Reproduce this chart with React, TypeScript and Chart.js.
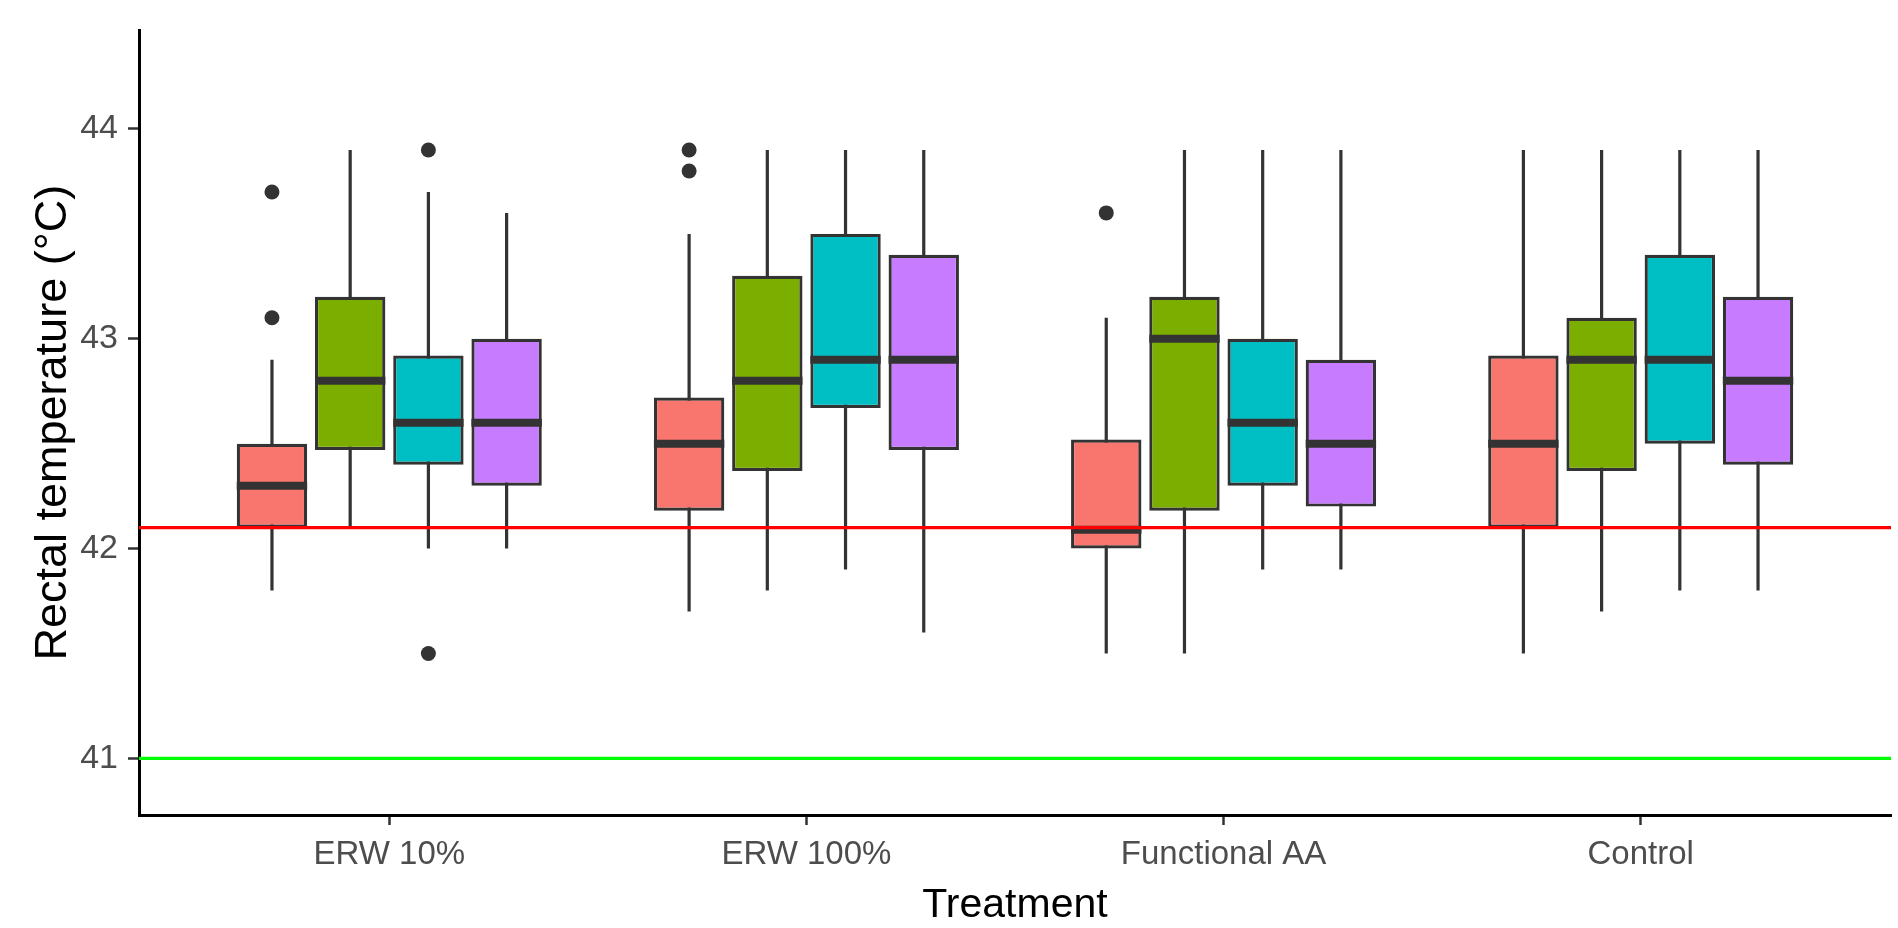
import React, { useEffect, useRef } from 'react';
import { Chart, registerables } from 'chart.js';

Chart.register(...registerables);

// ---------- data ----------
const CATEGORIES = ['ERW 10%', 'ERW 100%', 'Functional AA', 'Control'];
const CATEGORY_POSITIONS = [1, 2, 3, 4];
const SERIES = ['Group 1', 'Group 2', 'Group 3', 'Group 4'];
const COLORS = ['#F8766D', '#7CAE00', '#00BFC4', '#C77CFF'];

// per series (rows) x per category (columns)
const Q1 = [
  [42.1, 42.18, 42.0, 42.1],
  [42.47, 42.37, 42.18, 42.37],
  [42.4, 42.67, 42.3, 42.5],
  [42.3, 42.47, 42.2, 42.4],
];
const Q3 = [
  [42.5, 42.72, 42.52, 42.92],
  [43.2, 43.3, 43.2, 43.1],
  [42.92, 43.5, 43.0, 43.4],
  [43.0, 43.4, 42.9, 43.2],
];
const MEDIAN = [
  [42.3, 42.5, 42.09, 42.5],
  [42.8, 42.8, 43.0, 42.9],
  [42.6, 42.9, 42.6, 42.9],
  [42.6, 42.9, 42.5, 42.8],
];
const WHISKER_LOW = [
  [41.8, 41.7, 41.5, 41.5],
  [42.1, 41.8, 41.5, 41.7],
  [42.0, 41.9, 41.9, 41.8],
  [42.0, 41.6, 41.9, 41.8],
];
const WHISKER_HIGH = [
  [42.9, 43.5, 43.1, 43.9],
  [43.9, 43.9, 43.9, 43.9],
  [43.7, 43.9, 43.9, 43.9],
  [43.6, 43.9, 43.9, 43.9],
];
const OUTLIERS = [
  [[43.7, 43.1], [43.9, 43.8], [43.6], []],
  [[], [], [], []],
  [[43.9, 41.5], [], [], []],
  [[], [], [], []],
];

const Y_TICKS = [41, 42, 43, 44];
const THRESHOLD_RED = 42.1;
const THRESHOLD_GREEN = 41;
const X_MIN = 0.4;
const X_MAX = 4.6;
const Y_MIN = 40.73;
const Y_MAX = 44.47;

// ---------- styles ----------
const OUTLINE = '#333333';
const FONT = 'Liberation Sans, Arial, sans-serif';
const LINE_W = 3.2;

const boxExtras = {
  id: 'boxExtras',
  beforeDatasetsDraw(chart: any) {
    const ctx = chart.ctx;
    const y = chart.scales.y;
    ctx.save();
    ctx.strokeStyle = OUTLINE;
    ctx.lineWidth = LINE_W;
    SERIES.forEach((_, si) => {
      const meta = chart.getDatasetMeta(si);
      meta.data.forEach((el: any, ci: number) => {
        ctx.beginPath();
        ctx.moveTo(el.x, y.getPixelForValue(WHISKER_HIGH[si][ci]));
        ctx.lineTo(el.x, y.getPixelForValue(WHISKER_LOW[si][ci]));
        ctx.stroke();
      });
    });
    ctx.restore();
  },
  afterDatasetsDraw(chart: any) {
    const ctx = chart.ctx;
    const y = chart.scales.y;
    const area = chart.chartArea;
    ctx.save();
    SERIES.forEach((_, si) => {
      const meta = chart.getDatasetMeta(si);
      meta.data.forEach((el: any, ci: number) => {
        const half = el.width / 2;
        const ym = y.getPixelForValue(MEDIAN[si][ci]);
        ctx.strokeStyle = OUTLINE;
        ctx.lineWidth = 8;
        ctx.beginPath();
        ctx.moveTo(el.x - half, ym);
        ctx.lineTo(el.x + half, ym);
        ctx.stroke();
        ctx.fillStyle = OUTLINE;
        OUTLIERS[si][ci].forEach((v) => {
          ctx.beginPath();
          ctx.arc(el.x, y.getPixelForValue(v), 7.5, 0, Math.PI * 2);
          ctx.fill();
        });
      });
    });
    // reference lines
    const lines: [number, string][] = [
      [THRESHOLD_GREEN, '#00FF00'],
      [THRESHOLD_RED, '#FF0000'],
    ];
    lines.forEach(([v, c]) => {
      const yp = y.getPixelForValue(v);
      ctx.strokeStyle = c;
      ctx.lineWidth = 3.3;
      ctx.beginPath();
      ctx.moveTo(area.left, yp);
      ctx.lineTo(area.right, yp);
      ctx.stroke();
    });
    ctx.restore();
  },
};

export default function App() {
  const ref = useRef<HTMLCanvasElement | null>(null);

  useEffect(() => {
    document.body.style.margin = '0';
    const canvas = ref.current;
    if (!canvas) return;

    const datasets = SERIES.map((name, si) => ({
      label: name,
      data: CATEGORY_POSITIONS.map((x, ci) => ({ x, y: [Q1[si][ci], Q3[si][ci]] })),
      backgroundColor: COLORS[si],
      borderColor: OUTLINE,
      borderWidth: LINE_W,
      borderSkipped: false,
      categoryPercentage: 0.75,
      barPercentage: 0.9,
    }));

    const chart = new Chart(canvas, {
      type: 'bar',
      data: { datasets } as any,
      plugins: [boxExtras],
      options: {
        responsive: false,
        animation: false,
        devicePixelRatio: 1,
        layout: { padding: { top: 15, right: 7, left: 0, bottom: 0 } },
        plugins: { legend: { display: false }, tooltip: { enabled: false } },
        scales: {
          x: {
            type: 'linear',
            min: X_MIN,
            max: X_MAX,
            offset: false,
            afterBuildTicks: (s: any) => {
              s.ticks = CATEGORY_POSITIONS.map((v) => ({ value: v }));
            },
            afterFit: (s: any) => {
              s.height = 113;
            },
            grid: {
              display: true,
              offset: false,
              drawOnChartArea: false,
              drawTicks: true,
              tickLength: 10,
              tickColor: OUTLINE,
              tickWidth: 2.5,
            },
            border: { display: true, color: '#000000', width: 3 },
            ticks: {
              autoSkip: false,
              maxRotation: 0,
              padding: 10,
              color: '#4D4D4D',
              font: { family: FONT, size: 33 },
              callback: (v: any) => CATEGORIES[CATEGORY_POSITIONS.indexOf(Number(v))] ?? '',
            },
            title: {
              display: true,
              text: 'Treatment',
              color: '#000000',
              font: { family: FONT, size: 41, lineHeight: 1 },
              padding: { top: 0, bottom: 2 },
            },
          },
          y: {
            type: 'linear',
            min: Y_MIN,
            max: Y_MAX,
            stacked: false,
            afterBuildTicks: (s: any) => {
              s.ticks = Y_TICKS.map((v) => ({ value: v }));
            },
            afterFit: (s: any) => {
              s.width = 139;
            },
            grid: {
              display: true,
              drawOnChartArea: false,
              drawTicks: true,
              tickLength: 11,
              tickColor: OUTLINE,
              tickWidth: 2.5,
            },
            border: { display: true, color: '#000000', width: 3 },
            ticks: {
              padding: 10,
              color: '#4D4D4D',
              font: { family: FONT, size: 34 },
              callback: (v: any) => String(v),
            },
            title: {
              display: true,
              text: 'Rectal temperature (°C)',
              color: '#000000',
              font: { family: FONT, size: 45, lineHeight: 1 },
              padding: { top: 31, bottom: 0 },
            },
          },
        },
      } as any,
    });

    return () => chart.destroy();
  }, []);

  return <canvas ref={ref} width={1898} height={928} style={{ display: 'block' }} />;
}
